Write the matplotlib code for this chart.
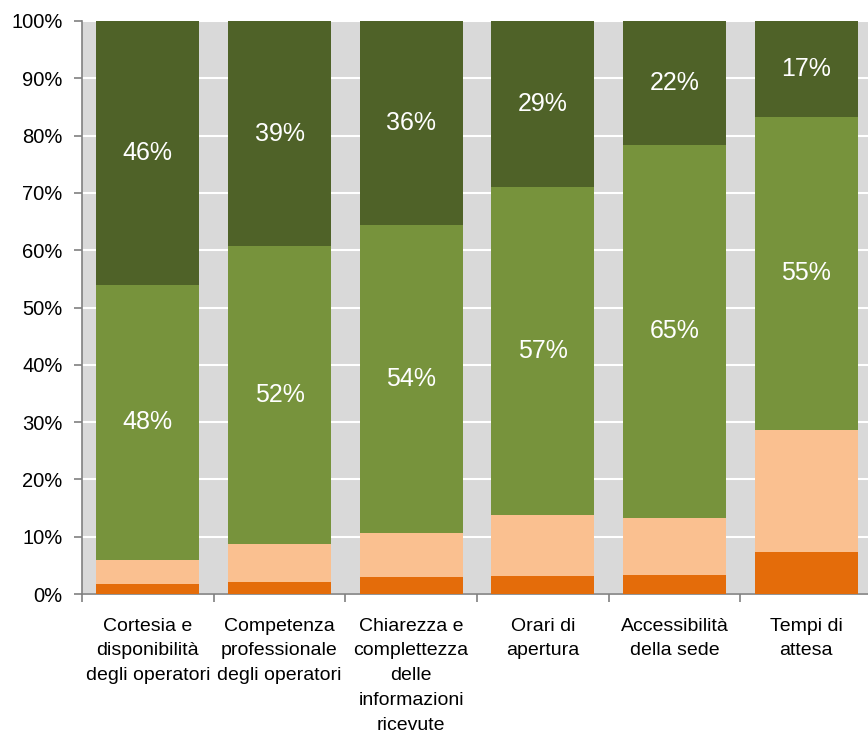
import numpy as np
import matplotlib.pyplot as plt

categories = ['Cortesia e\ndisponibilità\ndegli operatori',
              'Competenza\nprofessionale\ndegli operatori',
              'Chiarezza e\ncomplettezza\ndelle\ninformazioni\nricevute',
              'Orari di\napertura',
              'Accessibilità\ndella sede',
              'Tempi di\nattesa']
# stacked shares (%) bottom to top
s1 = [1.7, 2.1, 3.0, 3.2, 3.3, 7.3]
s2 = [4.2, 6.6, 7.6, 10.6, 10.0, 21.3]
s3 = [48.1, 52.0, 53.8, 57.2, 65.1, 54.7]
s4 = [46.0, 39.3, 35.6, 29.0, 21.6, 16.7]
colors = ['#e46c0a', '#fac090', '#77933c', '#4f6228']

plt.rcParams['font.family'] = ['Liberation Sans', 'DejaVu Sans']

fig = plt.figure(figsize=(8.68, 7.42), dpi=100)
ax = fig.add_axes([82/868, 1-594/742, 790/868, 573/742])
ax.set_facecolor('#d9d9d9')

x = np.arange(len(categories))
bottom = np.zeros(len(categories))
for k, vals in enumerate([s1, s2, s3, s4]):
    vals = np.array(vals)
    ax.bar(x, vals, 0.78, bottom=bottom, color=colors[k], zorder=3)
    if k >= 2:
        for xi, b, v in zip(x, bottom, vals):
            ax.text(xi, b + v/2, f'{v:.0f}%', ha='center', va='center',
                    color='white', fontsize=18, zorder=4)
    bottom += vals

ax.set_xlim(-0.5, len(categories) - 0.5)
ax.set_ylim(0, 100)
ax.set_yticks(np.arange(0, 101, 10))
ax.set_yticklabels([f'{v}%' for v in range(0, 101, 10)], fontsize=14.5)
ax.yaxis.grid(True, color='white', linewidth=1.5, zorder=1)
ax.set_axisbelow(True)

ax.set_xticks(x)
ax.set_xticklabels(categories, fontsize=14, linespacing=1.6, va='top')
ax.set_xticks(np.arange(-0.5, len(categories)), minor=True)
ax.tick_params(axis='x', which='major', length=0, pad=17)
ax.tick_params(axis='x', which='minor', length=6, color='#808080', width=1.2)
ax.tick_params(axis='y', length=6, color='#808080', width=1.2, pad=8)

for sp in ['top', 'right']:
    ax.spines[sp].set_visible(False)
for sp in ['left', 'bottom']:
    ax.spines[sp].set_color('#808080')
    ax.spines[sp].set_linewidth(1.2)

fig.savefig('out.png', dpi=100)
